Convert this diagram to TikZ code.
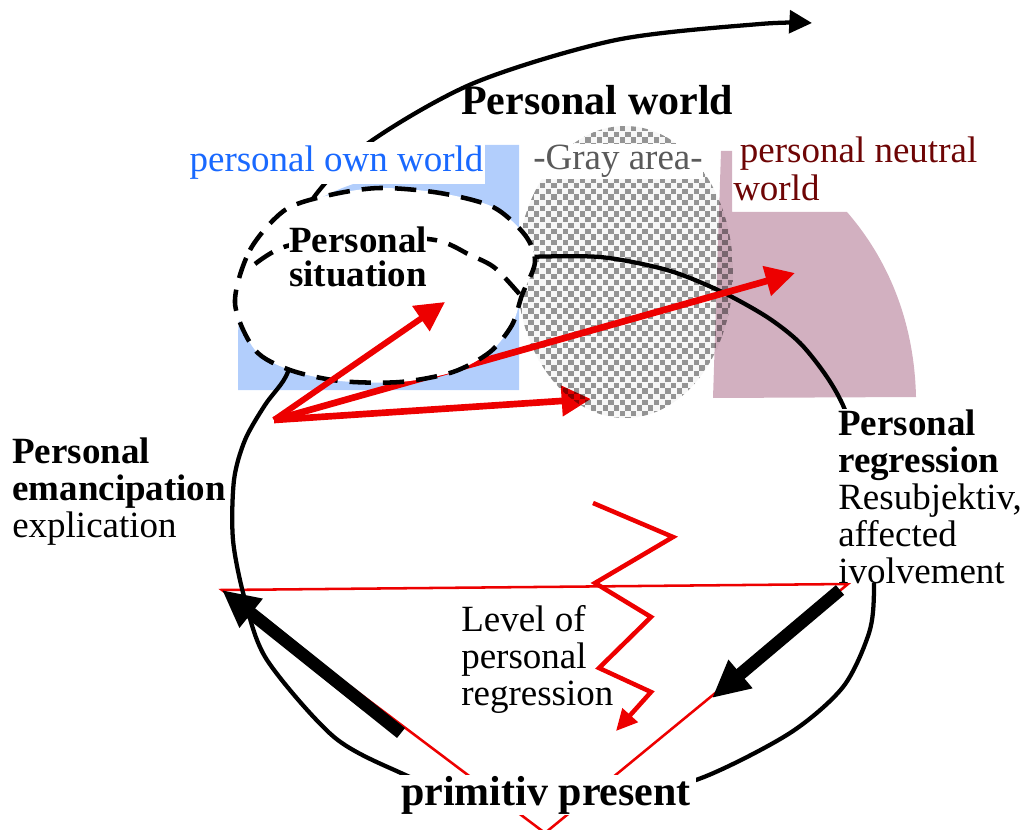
\documentclass[tikz,border=0pt]{standalone}
\usepackage{fontspec}
\setmainfont{Liberation Serif}
\usetikzlibrary{arrows.meta}
\definecolor{ownblue}{RGB}{178,206,252}
\definecolor{owntext}{RGB}{25,105,255}
\definecolor{neutralfill}{RGB}{210,176,192}
\definecolor{neutraltext}{RGB}{110,5,5}
\definecolor{graytext}{RGB}{90,90,90}
\definecolor{myred}{RGB}{237,0,0}
\begin{document}
\begin{tikzpicture}[x=0.75pt,y=-0.75pt,
  txt/.style={font=\fontsize{27.75pt}{27.75pt}\selectfont, inner sep=0pt, align=left},
  bigtxt/.style={font=\fontsize{31.5pt}{31.5pt}\selectfont\bfseries, inner sep=0pt},
  loopline/.style={line width=3.2pt, black},
  redarrow/.style={myred, line width=5pt, -{Triangle[length=22pt,width=22pt]}},
  thinred/.style={myred, line width=1.9pt},
  thickarrow/.style={black, line width=9.5pt, -{Triangle[length=28pt,width=26pt]}},
  zigzag/.style={myred, line width=3.4pt, line join=miter, -{Triangle[length=16pt,width=15pt]}},
  dashring/.style={black, line width=3.4pt, dash pattern=on 16pt off 9pt}
]
\useasboundingbox (0,0) rectangle (1027,830);

% coloured regions
\fill[ownblue] (238,390) -- (238,335) .. controls (240,270) and (280,205) .. (360,182)
  -- (483,175) -- (483,145) -- (519,145) -- (519,390) -- cycle;
\fill[neutralfill] (713,398) -- (721,151) -- (732,151) -- (732,212) -- (847,212)
  .. controls (880,250) and (914,310) .. (916,397) -- cycle;

% level triangle
\coordinate (tl) at (222,590);
\coordinate (tr) at (848,584);
\coordinate (tb) at (545,833);
\draw[thinred, line join=miter] (tl) -- (tr) -- (tb) -- cycle;

% red arrows from origin
\coordinate (o) at (274,420);
\coordinate (a1) at (445,302);
\coordinate (a2) at (795,273);
\coordinate (a3) at (591,399);
\draw[redarrow] (o) -- (a3);

% gray area (semi-transparent checkerboard)
\begin{scope}
  \clip (625,272) ellipse [x radius=108, y radius=146];
  \fill[black, opacity=0.03] (517,126) rectangle (733,418);
  \foreach \i in {0,...,38}{
    \pgfmathsetmacro\off{mod(\i,2)*5.7}
    \foreach \j in {0,...,26}{
      \fill[black, opacity=0.4] ({517+5.7*\i},{126+11.4*\j+\off}) rectangle ++(5.3,5.3);
    }
  }
\end{scope}

% big loop
\draw[loopline, -{Triangle[length=17pt,width=17pt]}] plot[smooth] coordinates {
  (525,257) (600,257) (667,270) (720,291) (767,317) (800,343) (827,377) (845,410)
  (860,460) (871,530) (874,590) (869,633) (843,687) (790,733) (704,777) (620,800)
  (546,806) (460,795) (401,773) (334,737) (267,660) (245,600) (233,540) (234,480)
  (245,440) (265,405) (285,378) (297,345) (300,300) (303,240) (312,200) (367,144)
  (474,83) (616,40) (760,24) (812,23)};

\draw[redarrow] (o) -- (a2);

% personal situation ring
\fill[white] plot[smooth cycle] coordinates {(235,303) (250,250) (285,210) (330,195)
  (380,188) (440,193) (493,207) (525,235) (535,262) (522,295) (512,325) (490,352)
  (453,372) (400,382) (340,381) (290,370) (255,350)};
\draw[dashring] plot[smooth cycle] coordinates {(235,303) (250,250) (285,210) (330,195)
  (380,188) (440,193) (493,207) (525,235) (535,262) (522,295) (512,325) (490,352)
  (453,372) (400,382) (340,381) (290,370) (255,350)};
\draw[dashring] plot[smooth] coordinates {(255,264) (287,246) (360,236) (435,240)
  (470,255) (495,268) (522,297)};

\draw[redarrow, line width=4.5pt] (o) -- (a1);

% labels (base anchor = baseline of the last line)
\node[bigtxt, anchor=base west] (pw) at (461,115) {Personal world};
\node[txt, anchor=base west, text=owntext, fill=white, inner xsep=1pt, inner ysep=3pt] (own) at (188,172) {personal own world};
\node[txt, anchor=base west, text=graytext, fill=white, inner ysep=1pt] (gray) at (533,170) {-Gray area-};
\node[txt, anchor=base west, text=neutraltext, font=\fontsize{27.75pt}{28.5pt}\selectfont] (neutral) at (733,201) {\hspace*{5pt}personal neutral\\world};
\node[txt, anchor=base, align=center, fill=white, font=\fontsize{27.75pt}{25.5pt}\selectfont\bfseries] (sit) at (358,287) {Personal\\situation};
\node[txt, anchor=base west] (eman) at (12,537) {\textbf{Personal}\\\textbf{emancipation}\\explication};
\node[txt, anchor=base west, fill=white] (regr) at (838,583) {\textbf{Personal}\\\textbf{regression}\\Resubjektiv,\\affected\\ivolvement};
\node[txt, anchor=base west] (level) at (461,705) {Level of\\personal\\regression};
\node[bigtxt, anchor=base, fill=white, inner xsep=4pt, inner ysep=1pt] (prim) at (546,805) {primitiv present};

% zigzag and thick arrows
\coordinate (z0) at (593,503);
\coordinate (zt) at (616,731);
\draw[zigzag] (z0) -- (673,537) -- (595,583) -- (651,617) -- (599,668) -- (651,692) -- (zt);
\coordinate (la) at (401,733);
\coordinate (ra) at (840,590);
\coordinate (rt) at (712,698);
\draw[thickarrow] (la) -- (tl);
\draw[thickarrow] (ra) -- (rt);
\end{tikzpicture}
\end{document}
